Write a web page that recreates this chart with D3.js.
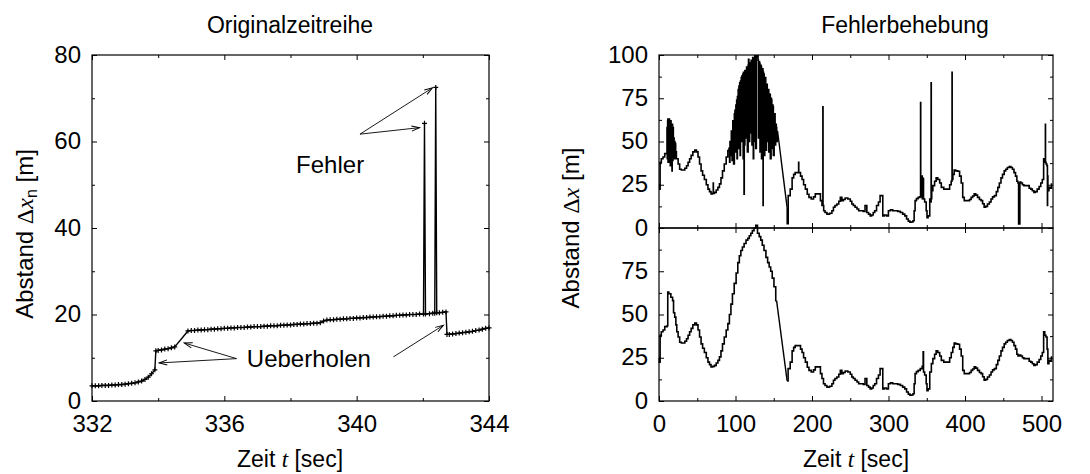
<!DOCTYPE html>
<html>
<head>
  <meta charset="utf-8">
  <title>Originalzeitreihe / Fehlerbehebung</title>
  <script src="https://d3js.org/d3.v7.min.js"></script>
  <style>
    html, body { margin: 0; padding: 0; background: #fff; }
    svg { display: block; }
    text { font-family: "Liberation Sans", Arial, sans-serif; fill: #000; }
    .serif { font-family: "Liberation Serif", "Times New Roman", serif; }
    .tick line { stroke: #000; stroke-width: 1; }
    .frame { fill: none; stroke: #000; stroke-width: 1.2; }
  </style>
</head>
<body>
  <svg width="1090" height="474"></svg>
  <script>
    // Linke Grafik: Originalzeitreihe [Zeit, Abstand]
    const origPoints = [
      [332.0, 3.5], [332.1, 3.5], [332.2, 3.5], [332.3, 3.6], [332.4, 3.6], [332.5, 3.6], [332.6, 3.7], [332.7, 3.7],
      [332.8, 3.8], [332.9, 3.8], [333.0, 3.9], [333.1, 4.0], [333.2, 4.1], [333.3, 4.2], [333.4, 4.4], [333.5, 4.6],
      [333.6, 5.0], [333.7, 5.5], [333.8, 6.3], [333.9, 7.2], [333.93, 11.6], [334.0, 11.7], [334.1, 11.8], [334.2, 12.0],
      [334.3, 12.1], [334.4, 12.3], [334.5, 12.5], [334.9, 16.2], [335.0, 16.3], [335.1, 16.3], [335.2, 16.4], [335.3, 16.4],
      [335.4, 16.5], [335.5, 16.5], [335.6, 16.6], [335.7, 16.6], [335.8, 16.7], [335.9, 16.7], [336.0, 16.8], [336.1, 16.8],
      [336.2, 16.9], [336.3, 16.9], [336.4, 17.0], [336.5, 17.0], [336.6, 17.0], [336.7, 17.1], [336.8, 17.1], [336.9, 17.2],
      [337.0, 17.2], [337.1, 17.2], [337.2, 17.3], [337.3, 17.3], [337.4, 17.4], [337.5, 17.4], [337.6, 17.4], [337.7, 17.5],
      [337.8, 17.5], [337.9, 17.6], [338.0, 17.6], [338.1, 17.7], [338.2, 17.7], [338.3, 17.8], [338.4, 17.8], [338.5, 17.9],
      [338.6, 17.9], [338.7, 18.0], [338.8, 18.0], [338.9, 18.1], [339.0, 18.5], [339.1, 18.7], [339.2, 18.8], [339.3, 18.8],
      [339.4, 18.9], [339.5, 18.9], [339.6, 19.0], [339.7, 19.0], [339.8, 19.1], [339.9, 19.1], [340.0, 19.2], [340.1, 19.2],
      [340.2, 19.3], [340.3, 19.3], [340.4, 19.4], [340.5, 19.4], [340.6, 19.5], [340.7, 19.5], [340.8, 19.6], [340.9, 19.6],
      [341.0, 19.7], [341.1, 19.7], [341.2, 19.8], [341.3, 19.8], [341.4, 19.9], [341.5, 19.9], [341.6, 20.0], [341.7, 20.0],
      [341.8, 20.0], [341.9, 20.1], [342.02, 20.1], [342.05, 64.2], [342.08, 20.1], [342.2, 20.2], [342.3, 20.3],
      [342.36, 20.3], [342.39, 72.5], [342.42, 20.4], [342.5, 20.4], [342.6, 20.5], [342.7, 20.6], [342.73, 15.4],
      [342.8, 15.4], [342.9, 15.5], [343.0, 15.6], [343.1, 15.7], [343.2, 15.8], [343.3, 15.9], [343.4, 16.0], [343.5, 16.1],
      [343.6, 16.3], [343.7, 16.4], [343.8, 16.6], [343.9, 16.8], [344.0, 16.9]
    ];
    const origXTicks = [332, 336, 340, 344];
    const origXMinor = [334, 338, 342];
    const origYTicks = [0, 20, 40, 60, 80];
    const origYMinor = [10, 30, 50, 70];

    // Rechte Grafik unten: korrigierte Zeitreihe [Zeit, Abstand]
    const corrected = [
      [0, 25], [0.9, 22.5], [2, 38], [4, 40], [6.5, 41], [8.5, 43], [10, 43], [11.2, 43.5], [11.7, 63], [14, 62],
      [17, 60], [18.5, 58], [19.5, 51], [21.6, 48.5], [22.5, 44], [24, 40], [26, 37], [28, 34], [30.5, 33.5], [32.5, 33.5],
      [35, 34.5], [37, 36], [39, 38], [41, 40], [43, 42], [45.5, 44], [48, 45], [50, 44], [52, 41], [54, 37],
      [56, 33], [58, 30.5], [60.6, 28], [63, 25], [65, 22.5], [67, 21], [69, 19.7], [71.5, 20], [73.6, 20.6], [76, 22],
      [78, 23.5], [80, 25.5], [82, 29], [84, 33], [86.6, 37], [89, 41], [91, 44.7], [93, 50], [95, 56], [97, 62],
      [99.6, 68], [102, 74], [104, 80], [106, 84], [108, 87], [110, 89], [112.5, 91], [115, 93], [117, 94], [119, 95.5],
      [121, 97], [123, 98.5], [125.5, 100], [127.5, 101.5], [130, 97], [132, 95], [134, 93], [136, 90], [138.5, 87], [141, 83],
      [143, 80], [145, 77.5], [147, 75], [149, 71], [151.5, 66], [153.7, 58], [167.5, 11.6], [170, 18.7], [173, 22.5], [175, 29],
      [177, 31], [179, 32], [184, 32], [186, 30], [188, 28], [190, 25], [192.6, 22.5], [195, 19.5], [197, 17.7], [201, 16.8],
      [203, 18], [205.6, 19.7], [210, 19.7], [212, 15.8], [214, 13], [216, 10], [218, 9], [221, 8], [225, 8.5], [227, 10],
      [229, 12], [231, 13], [234, 13.9], [236, 15.5], [238, 17.7], [240, 15.8], [242, 16.5], [244.6, 17.3], [249, 16.8], [251, 15.5],
      [253, 13.9], [255, 13], [257.6, 12], [260, 11], [262, 10], [266, 10], [268, 9.5], [270.6, 13], [272.7, 9], [275, 8],
      [277, 7], [279, 7.5], [281, 9], [283, 10], [285.7, 13], [288, 15], [290, 18.7], [292, 18.7], [293, 7], [296, 7.5],
      [298.7, 7], [301, 10], [304, 10.5], [307, 10], [310, 10], [314, 9.6], [317, 9], [320, 8], [322.5, 7], [324.7, 5.2],
      [327, 4], [329, 3.3], [331, 3.5], [333, 4.2], [334, 10], [335.5, 15.8], [337.5, 17], [340, 17.7], [343, 18.7], [345, 20],
      [345.5, 28.5], [346, 16.8], [348.5, 15], [350, 10], [350.6, 6], [352.8, 7], [355, 16.8], [357, 21.6], [359, 24.5], [361.5, 27],
      [363, 29], [365.8, 28], [368, 26], [370, 23.5], [374.5, 22.5], [378.8, 22.5], [381, 25], [383, 28], [385, 31], [386.6, 33.5],
      [389, 33], [391.8, 32.8], [394, 30], [396, 26], [398, 17.7], [400, 15.8], [404.8, 15.8], [407, 16.5], [409, 17.7], [411, 18.5],
      [413, 19.7], [415, 19], [417.7, 17.7], [420, 16.5], [422, 15.8], [424, 14], [426, 12], [428, 12.5], [430.7, 13.9], [433, 15],
      [435, 16.8], [437, 18], [439.8, 18.7], [442, 21], [443.7, 23.5], [446, 26], [448, 29], [450, 31], [452.4, 33], [454, 34],
      [456.7, 35], [459, 35.5], [461, 35], [463, 34], [465, 32], [467, 30], [468.5, 27], [470, 26], [472, 26.5], [474, 26],
      [476, 25], [478, 24.5], [482.7, 24.5], [485, 23], [487, 22.5], [489, 21.5], [491, 20.6], [493, 21], [495.7, 22.5], [498, 24],
      [500, 26], [502, 28], [503.5, 40], [505, 38], [506.5, 37], [508, 30], [508.6, 21.6], [510.8, 23.5], [512, 23], [514, 25.4]
    ];

    // Rechte Grafik oben: fehlerhafte Messwerte, die in der Rohreihe zusaetzlich auftreten
    const rawErrors = [
      [10.3, 43], [10.6, 58], [11, 40], [11.4, 62], [12, 38], [12.5, 63], [13, 40], [13.5, 63], [14, 38], [14.5, 62],
      [15, 36], [15.5, 62], [16, 40], [16.5, 60], [17, 33], [17.5, 60], [18, 39], [18.5, 58], [19, 40], [19.5, 52],
      [20, 42], [20.5, 50], [21, 40], [21.5, 49], [22, 43], [23, 40],
      [70.8, 20], [71, 26], [71.2, 20],
      [92, 46], [92.5, 38], [93, 50], [94, 42], [95, 55], [96, 39], [97, 60], [98, 37], [99, 66], [100, 44],
      [101, 71], [102, 40], [103, 76], [104, 46], [105, 82], [106, 42], [107, 85], [108, 50], [109, 88], [110, 40],
      [111, 90], [111.3, 19.5], [111.6, 88], [112, 48], [113, 91], [114, 52], [115, 92], [116, 44], [117, 97.5], [118, 50],
      [119, 95], [120, 55], [121, 96], [122, 48], [123, 97], [123.5, 40], [124, 98], [125, 50], [126, 99], [127, 46],
      [128, 99], [129, 100], [130, 52], [131, 96], [132, 44], [133, 94], [134, 40], [135, 92], [135.8, 92], [136.05, 13],
      [136.3, 90], [137, 89], [138, 42], [139, 87], [140, 45], [141, 83], [142, 50], [143, 80], [144, 44], [145, 77],
      [146, 40], [147, 74], [148, 46], [149, 70], [150, 42], [151, 66], [152, 48], [153, 60], [154, 50], [155, 56],
      [167.7, 2.5],
      [182.4, 32], [182.6, 38], [182.8, 32],
      [214.1, 14], [214.3, 70], [214.5, 13],
      [341.8, 18], [342, 72.5], [342.2, 18.5], [343.8, 19], [344, 30], [344.2, 17], [344.6, 29], [345.1, 18],
      [355.6, 15], [355.8, 84], [356, 17],
      [382.8, 27], [383.1, 90], [383.3, 28],
      [469.8, 26], [470.1, 2.3], [471.6, 2.3], [471.8, 26],
      [504.8, 38], [505.1, 60], [505.3, 38],
      [507.6, 36], [507.8, 13], [508.1, 30]
    ];
    const fehlerXTicks = [0, 100, 200, 300, 400, 500];
    const fehlerXMinor = [50, 150, 250, 350, 450];
    const fehlerYTicks = [0, 25, 50, 75, 100];
    const fehlerYMinor = [12.5, 37.5, 62.5, 87.5];

    const svg = d3.select("svg");
    const TICKFONT = 24, LABELFONT = 23, YLABELFONT = 24;

    // Achsenrahmen mit nach innen zeigenden Ticks auf allen vier Seiten
    function frame(g, x, y, xt, xm, yt, ym, yLabels) {
      const [x0, x1] = x.range();
      const [y1, y0] = y.range();
      const major = 5, minor = 3;
      g.append("g").attr("transform", `translate(0,${y1})`)
        .call(d3.axisBottom(x).tickValues(xt).tickSize(-major).tickPadding(14).tickFormat(d3.format("d")))
        .call(a => a.select(".domain").remove())
        .selectAll("text").style("font-size", TICKFONT + "px");
      g.append("g").attr("transform", `translate(0,${y1})`)
        .call(d3.axisBottom(x).tickValues(xm).tickSize(-minor).tickFormat(""))
        .call(a => a.select(".domain").remove());
      g.append("g").attr("transform", `translate(0,${y0})`)
        .call(d3.axisTop(x).tickValues(xt).tickSize(-major).tickFormat(""))
        .call(a => a.select(".domain").remove());
      g.append("g").attr("transform", `translate(0,${y0})`)
        .call(d3.axisTop(x).tickValues(xm).tickSize(-minor).tickFormat(""))
        .call(a => a.select(".domain").remove());
      g.append("g").attr("transform", `translate(${x0},0)`)
        .call(d3.axisLeft(y).tickValues(yt).tickSize(-major).tickPadding(11)
          .tickFormat(d => yLabels.includes(d) ? d : ""))
        .call(a => a.select(".domain").remove())
        .selectAll("text").style("font-size", TICKFONT + "px").attr("dy", "0.3em");
      g.append("g").attr("transform", `translate(${x0},0)`)
        .call(d3.axisLeft(y).tickValues(ym).tickSize(-minor).tickFormat(""))
        .call(a => a.select(".domain").remove());
      g.append("g").attr("transform", `translate(${x1},0)`)
        .call(d3.axisRight(y).tickValues(yt).tickSize(-major).tickFormat(""))
        .call(a => a.select(".domain").remove());
      g.append("g").attr("transform", `translate(${x1},0)`)
        .call(d3.axisRight(y).tickValues(ym).tickSize(-minor).tickFormat(""))
        .call(a => a.select(".domain").remove());
      g.selectAll(".tick text").attr("fill", "#000").attr("font-family", null);
      g.append("rect").attr("class", "frame")
        .attr("x", x0).attr("y", y0).attr("width", x1 - x0).attr("height", y1 - y0);
    }

    function zeitLabel(cx) {
      const t = svg.append("text").attr("x", cx).attr("y", 467)
        .attr("text-anchor", "middle").style("font-size", LABELFONT + "px");
      t.append("tspan").text("Zeit ");
      t.append("tspan").attr("class", "serif").style("font-style", "italic").text("t");
      t.append("tspan").text(" [sec]");
    }

    function abstandLabel(cx, cy, sub) {
      const t = svg.append("text")
        .attr("transform", `translate(${cx},${cy}) rotate(-90)`)
        .attr("text-anchor", "middle").style("font-size", YLABELFONT + "px");
      t.append("tspan").text("Abstand ");
      t.append("tspan").attr("class", "serif").text("\u0394");
      t.append("tspan").attr("class", "serif").style("font-style", "italic").text("x");
      if (sub) t.append("tspan").attr("dy", 4).style("font-size", "16px").text(sub);
      t.append("tspan").attr("dy", sub ? -4 : 0).text(" [m]");
    }

    // Treppenlinie, grosse Luecken werden gerade verbunden
    function stairPath(g, pts, x, y, gap) {
      const runs = [[pts[0]]];
      for (let i = 1; i < pts.length; i++) {
        if (pts[i][0] - pts[i - 1][0] > gap) {
          g.append("line")
            .attr("x1", x(pts[i - 1][0])).attr("y1", y(pts[i - 1][1]))
            .attr("x2", x(pts[i][0])).attr("y2", y(pts[i][1]))
            .attr("stroke", "#000").attr("stroke-width", 1.4);
          runs.push([]);
        }
        runs[runs.length - 1].push(pts[i]);
      }
      g.selectAll("path.run").data(runs).join("path").attr("class", "run")
        .attr("fill", "none").attr("stroke", "#000").attr("stroke-width", 1.6)
        .attr("stroke-linejoin", "miter")
        .attr("d", d3.line().curve(d3.curveStep).x(d => x(d[0])).y(d => y(d[1])));
    }

    // Pfeilspitze
    svg.append("defs").append("marker")
      .attr("id", "head").attr("viewBox", "-10 -5 12 10")
      .attr("refX", 0).attr("refY", 0)
      .attr("markerWidth", 12).attr("markerHeight", 10)
      .attr("markerUnits", "userSpaceOnUse").attr("orient", "auto")
      .append("path").attr("d", "M-8,-2.6L0,0L-8,2.6")
      .attr("fill", "none").attr("stroke", "#000").attr("stroke-width", 1);

    // ---------- links ----------
    const xL = d3.scaleLinear().domain([332, 344]).range([92, 489]);
    const yL = d3.scaleLinear().domain([0, 80]).range([401, 55]);
    const gL = svg.append("g");

    gL.append("path").datum(origPoints)
      .attr("fill", "none").attr("stroke", "#000").attr("stroke-width", 1.4)
      .attr("d", d3.line().x(d => xL(d[0])).y(d => yL(d[1])));
    gL.append("g").selectAll("path").data(origPoints).join("path")
      .attr("transform", d => `translate(${xL(d[0])},${yL(d[1])})`)
      .attr("d", "M-2.5,0H2.5M0,-2.5V2.5")
      .attr("stroke", "#000").attr("stroke-width", 1.2);

    frame(gL, xL, yL, origXTicks, origXMinor, origYTicks, origYMinor, origYTicks);

    const fehlerArrows = [
      [[340.1, 61.7], [341.9, 63.2]],
      [[340.1, 61.7], [342.29, 72.4]]
    ];
    const ueberArrows = [
      [[336.37, 9.8], [334.03, 8.8]],
      [[336.37, 9.8], [334.79, 13.4]],
      [[341.11, 10.2], [342.62, 17.5]]
    ];
    gL.append("g").selectAll("line").data(fehlerArrows.concat(ueberArrows)).join("line")
      .attr("x1", d => xL(d[0][0])).attr("y1", d => yL(d[0][1]))
      .attr("x2", d => xL(d[1][0])).attr("y2", d => yL(d[1][1]))
      .attr("stroke", "#000").attr("stroke-width", 0.9)
      .attr("marker-end", "url(#head)");
    gL.append("text").attr("x", xL(338.17)).attr("y", yL(52.7))
      .style("font-size", TICKFONT + "px").text("Fehler");
    gL.append("text").attr("x", xL(336.68)).attr("y", yL(7.9))
      .style("font-size", TICKFONT + "px").text("Ueberholen");

    svg.append("text").attr("x", 290).attr("y", 33).attr("text-anchor", "middle")
      .style("font-size", LABELFONT + "px").text("Originalzeitreihe");
    zeitLabel(290);
    abstandLabel(33, 234, "n");

    // ---------- rechts ----------
    const xR = d3.scaleLinear().domain([0, 515]).range([659, 1053]);
    const yTop = d3.scaleLinear().domain([0, 100]).range([228, 55]);
    const yBot = d3.scaleLinear().domain([0, 100]).range([401, 228]);

    const rawSeries = corrected.concat(rawErrors).sort((a, b) => a[0] - b[0]);

    svg.append("clipPath").attr("id", "clipTop")
      .append("rect").attr("x", 659).attr("y", 55).attr("width", 394).attr("height", 173);

    const gT = svg.append("g");
    stairPath(gT.append("g").attr("clip-path", "url(#clipTop)"), rawSeries, xR, yTop, 8);
    frame(gT, xR, yTop, fehlerXTicks, fehlerXMinor, fehlerYTicks, fehlerYMinor, fehlerYTicks);
    gT.selectAll(".tick text").filter(function () {
      return this.parentNode.parentNode.getAttribute("transform") === "translate(0,228)";
    }).remove();

    const gB = svg.append("g");
    stairPath(gB.append("g"), corrected, xR, yBot, 8);
    frame(gB, xR, yBot, fehlerXTicks, fehlerXMinor, fehlerYTicks, fehlerYMinor, [0, 25, 50, 75]);

    svg.append("text").attr("x", 905).attr("y", 33).attr("text-anchor", "middle")
      .style("font-size", LABELFONT + "px").text("Fehlerbehebung");
    zeitLabel(856);
    abstandLabel(579, 228, null);
  </script>
</body>
</html>
